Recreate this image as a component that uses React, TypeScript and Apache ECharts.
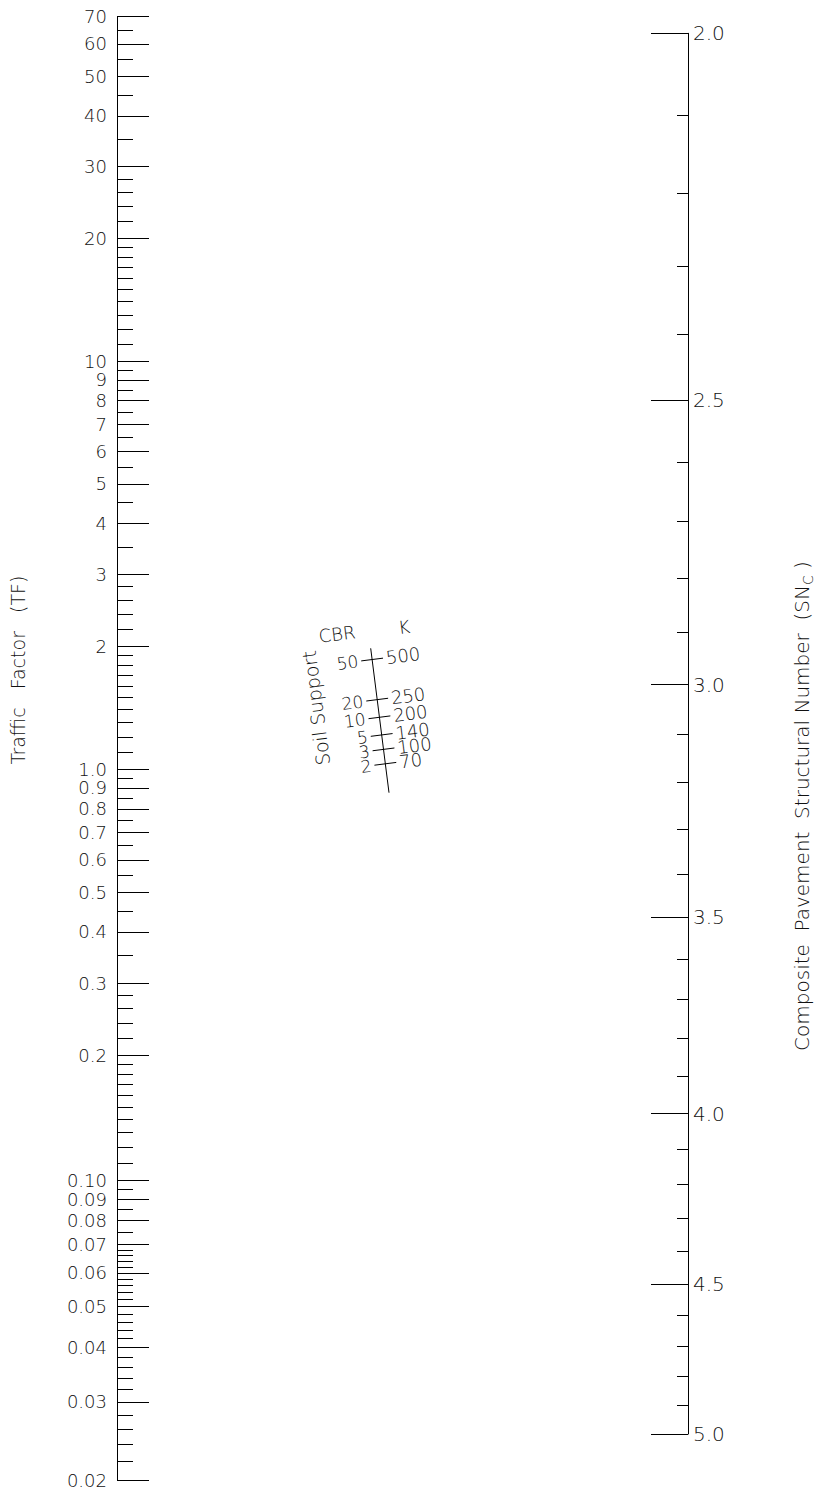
import React, { useEffect, useRef } from "react";
import * as echarts from "echarts";

// ---------- data ----------
const tfMajorValues = [70, 60, 50, 40, 30, 20, 10, 9, 8, 7, 6, 5, 4, 3, 2, 1, 0.9, 0.8, 0.7, 0.6, 0.5, 0.4, 0.3, 0.2, 0.1, 0.09, 0.08, 0.07, 0.06, 0.05, 0.04, 0.03, 0.02];
const tfMajorLabels = ["70", "60", "50", "40", "30", "20", "10", "9", "8", "7", "6", "5", "4", "3", "2", "1.0", "0.9", "0.8", "0.7", "0.6", "0.5", "0.4", "0.3", "0.2", "0.10", "0.09", "0.08", "0.07", "0.06", "0.05", "0.04", "0.03", "0.02"];
const tfMinorValues = [
  65, 55, 45, 35, 28, 26, 24, 22, 19, 18, 17, 16, 15, 14, 13, 12, 11,
  9.5, 8.5, 7.5, 6.5, 5.5, 4.5, 3.5, 2.8, 2.6, 2.4, 2.2,
  1.9, 1.8, 1.7, 1.6, 1.5, 1.4, 1.3, 1.2, 1.1,
  0.95, 0.85, 0.75, 0.65, 0.55, 0.45, 0.35, 0.28, 0.26, 0.24, 0.22,
  0.19, 0.18, 0.17, 0.16, 0.15, 0.14, 0.13, 0.12, 0.11,
  0.095, 0.085, 0.075, 0.068, 0.066, 0.064, 0.062, 0.058, 0.056, 0.054, 0.052,
  0.048, 0.046, 0.044, 0.042, 0.038, 0.036, 0.034, 0.032, 0.028, 0.026, 0.024, 0.022,
];
const snMajorValues = [2.0, 2.5, 3.0, 3.5, 4.0, 4.5, 5.0];
const snMajorLabels = ["2.0", "2.5", "3.0", "3.5", "4.0", "4.5", "5.0"];
const snMinorValues = [2.1, 2.2, 2.3, 2.4, 2.6, 2.7, 2.8, 2.9, 3.1, 3.2, 3.3, 3.4, 3.6, 3.7, 3.8, 3.9, 4.1, 4.2, 4.3, 4.4, 4.6, 4.7, 4.8, 4.9];
const cbrLabels = ["50", "20", "10", "5", "3", "2"];
const kLabels = ["500", "250", "200", "140", "100", "70"];
const soilSupportValues = [9.3, 6.8, 5.7, 4.6, 3.7, 2.8];
const SOIL_MIN = 1;
const SOIL_MAX = 10;

// ---------- scales ----------
const TF_SHIFT = 0.002;
const tfScale = (v: number) => Math.log10(v - TF_SHIFT);
const SN_SHIFT = 0.5;
const snScale = (v: number) => Math.log10(v - SN_SHIFT);
const key = (u: number) => u.toFixed(8);

const FONT = '"DejaVu Sans", "Noto Sans", sans-serif';
const TEXT_COLOR = "#111";
const SOIL_TILT = 0.126;

export default function App() {
  const ref = useRef<HTMLDivElement>(null);

  useEffect(() => {
    if (!ref.current) return;
    const chart = echarts.init(ref.current, undefined, { renderer: "svg" });

    const tfLabelMap = new Map<string, string>();
    tfMajorValues.forEach((v, i) => tfLabelMap.set(key(tfScale(v)), tfMajorLabels[i]));
    const snLabelMap = new Map<string, string>();
    snMajorValues.forEach((v, i) => snLabelMap.set(key(snScale(v)), snMajorLabels[i]));

    const tfMin = tfScale(0.02);
    const tfMax = tfScale(70);
    const snMin = snScale(2.0);
    const snMax = snScale(5.0);

    const black = { color: "#000", width: 1 };
    const labelBase = { fontFamily: FONT, fontWeight: 200 as any, color: TEXT_COLOR };

    const option: any = {
      animation: false,
      backgroundColor: "#fff",
      grid: [
        { left: 117, top: 16.7, width: 40, height: 1463.3 },
        { left: 640, top: 33.3, width: 48, height: 1400.7 },
        { left: 370.7, top: 648.3, width: 18.3, height: 144.4 },
      ],
      xAxis: [0, 1, 2].map((i) => ({ type: "value", gridIndex: i, show: false, min: 0, max: 1 })),
      yAxis: [
        {
          gridIndex: 0, type: "value", position: "left", min: tfMin, max: tfMax,
          axisLine: { show: true, onZero: false, lineStyle: black },
          axisTick: { show: true, inside: true, length: 32, customValues: tfMajorValues.map(tfScale), lineStyle: black },
          axisLabel: {
            show: true, ...labelBase, fontSize: 18, lineHeight: 16, margin: 10,
            customValues: tfMajorValues.map(tfScale),
            formatter: (u: number) => tfLabelMap.get(key(u)) ?? "",
          },
          splitLine: { show: false },
        },
        {
          gridIndex: 0, type: "value", position: "left", min: tfMin, max: tfMax,
          axisLine: { show: false, onZero: false },
          axisTick: { show: true, inside: true, length: 16, customValues: tfMinorValues.map(tfScale), lineStyle: black },
          axisLabel: { show: false },
          splitLine: { show: false },
        },
        {
          gridIndex: 1, type: "value", position: "right", inverse: true, min: snMin, max: snMax,
          axisLine: { show: true, onZero: false, lineStyle: black },
          axisTick: { show: true, inside: true, length: 37, customValues: snMajorValues.map(snScale), lineStyle: black },
          axisLabel: {
            show: true, ...labelBase, fontSize: 20, margin: 5, padding: [8, 0, 0, 0],
            customValues: snMajorValues.map(snScale),
            formatter: (u: number) => snLabelMap.get(key(u)) ?? "",
          },
          splitLine: { show: false },
        },
        {
          gridIndex: 1, type: "value", position: "right", inverse: true, min: snMin, max: snMax,
          axisLine: { show: false, onZero: false },
          axisTick: { show: true, inside: true, length: 11, customValues: snMinorValues.map(snScale), lineStyle: black },
          axisLabel: { show: false },
          splitLine: { show: false },
        },
        { gridIndex: 2, type: "value", show: false, min: SOIL_MIN, max: SOIL_MAX, axisLine: { onZero: false } },
      ],
      series: [
        {
          type: "line", xAxisIndex: 2, yAxisIndex: 4, silent: true,
          data: [[0, SOIL_MAX], [1, SOIL_MIN]],
          symbol: "none", lineStyle: { color: "#000", width: 1 },
        },
        {
          type: "custom", xAxisIndex: 2, yAxisIndex: 4, silent: true, clip: false,
          data: soilSupportValues.map((s, i) => [(SOIL_MAX - s) / (SOIL_MAX - SOIL_MIN), s, i]),
          renderItem: (params: any, api: any) => {
            const i = api.value(2);
            const p = api.coord([api.value(0), api.value(1)]);
            const top = api.coord([0, SOIL_MAX]);
            const bot = api.coord([1, SOIL_MIN]);
            let dx = bot[0] - top[0];
            let dy = bot[1] - top[1];
            const len = Math.hypot(dx, dy);
            dx /= len; dy /= len;
            const nx = dy, ny = -dx;
            const rot = -Math.atan2(ny, nx);
            const h = 11, L = 14;
            const ts = { fontSize: 17, lineHeight: 13, fontFamily: FONT, fontWeight: 200, fill: TEXT_COLOR, verticalAlign: "middle", textVerticalAlign: "middle" };
            return {
              type: "group",
              children: [
                { type: "line", shape: { x1: p[0] - h * nx, y1: p[1] - h * ny, x2: p[0] + h * nx, y2: p[1] + h * ny }, style: { stroke: "#000", lineWidth: 1 } },
                { type: "text", x: p[0] - L * nx, y: p[1] - L * ny, rotation: rot, style: { ...ts, text: cbrLabels[i], align: "right", textAlign: "right" } },
                { type: "text", x: p[0] + L * nx, y: p[1] + L * ny, rotation: rot, style: { ...ts, fontSize: 18, text: kLabels[i], align: "left", textAlign: "left" } },
              ],
            };
          },
        },
      ],
      graphic: [
        {
          type: "text", x: 18, y: 670, rotation: Math.PI / 2,
          style: { text: "Traffic   Factor   (TF)", fontSize: 19, fontFamily: FONT, fontWeight: 200, fill: TEXT_COLOR, align: "center", verticalAlign: "middle", textAlign: "center", textVerticalAlign: "middle" },
        },
        {
          type: "text", x: 802, y: 806, rotation: Math.PI / 2,
          style: {
            text: "{a|Composite  Pavement  Structural Number  (SN}{s|C}{a| )}",
            rich: {
              a: { fontSize: 20, fontFamily: FONT, fontWeight: 200, fill: TEXT_COLOR, lineHeight: 24 },
              s: { fontSize: 14, fontFamily: FONT, fontWeight: 200, fill: TEXT_COLOR, lineHeight: 24, padding: [12, 0, 0, 0] },
            },
            fill: TEXT_COLOR, align: "center", verticalAlign: "middle", textAlign: "center", textVerticalAlign: "middle",
          },
        },
        {
          type: "text", x: 316, y: 708, rotation: Math.PI / 2 + SOIL_TILT,
          style: { text: "Soil Support", fontSize: 19, fontFamily: FONT, fontWeight: 200, fill: TEXT_COLOR, align: "center", verticalAlign: "middle", textAlign: "center", textVerticalAlign: "middle" },
        },
        {
          type: "text", x: 337, y: 634, rotation: SOIL_TILT,
          style: { text: "CBR", fontSize: 18, fontFamily: FONT, fontWeight: 200, fill: TEXT_COLOR, align: "center", verticalAlign: "middle", textAlign: "center", textVerticalAlign: "middle" },
        },
        {
          type: "text", x: 404, y: 627, rotation: SOIL_TILT,
          style: { text: "K", fontSize: 18, fontFamily: FONT, fontWeight: 200, fill: TEXT_COLOR, align: "center", verticalAlign: "middle", textAlign: "center", textVerticalAlign: "middle" },
        },
      ],
    };

    chart.setOption(option);
    return () => chart.dispose();
  }, []);

  return <div ref={ref} style={{ position: "absolute", left: 0, top: 0, width: 819, height: 1492 }} />;
}
